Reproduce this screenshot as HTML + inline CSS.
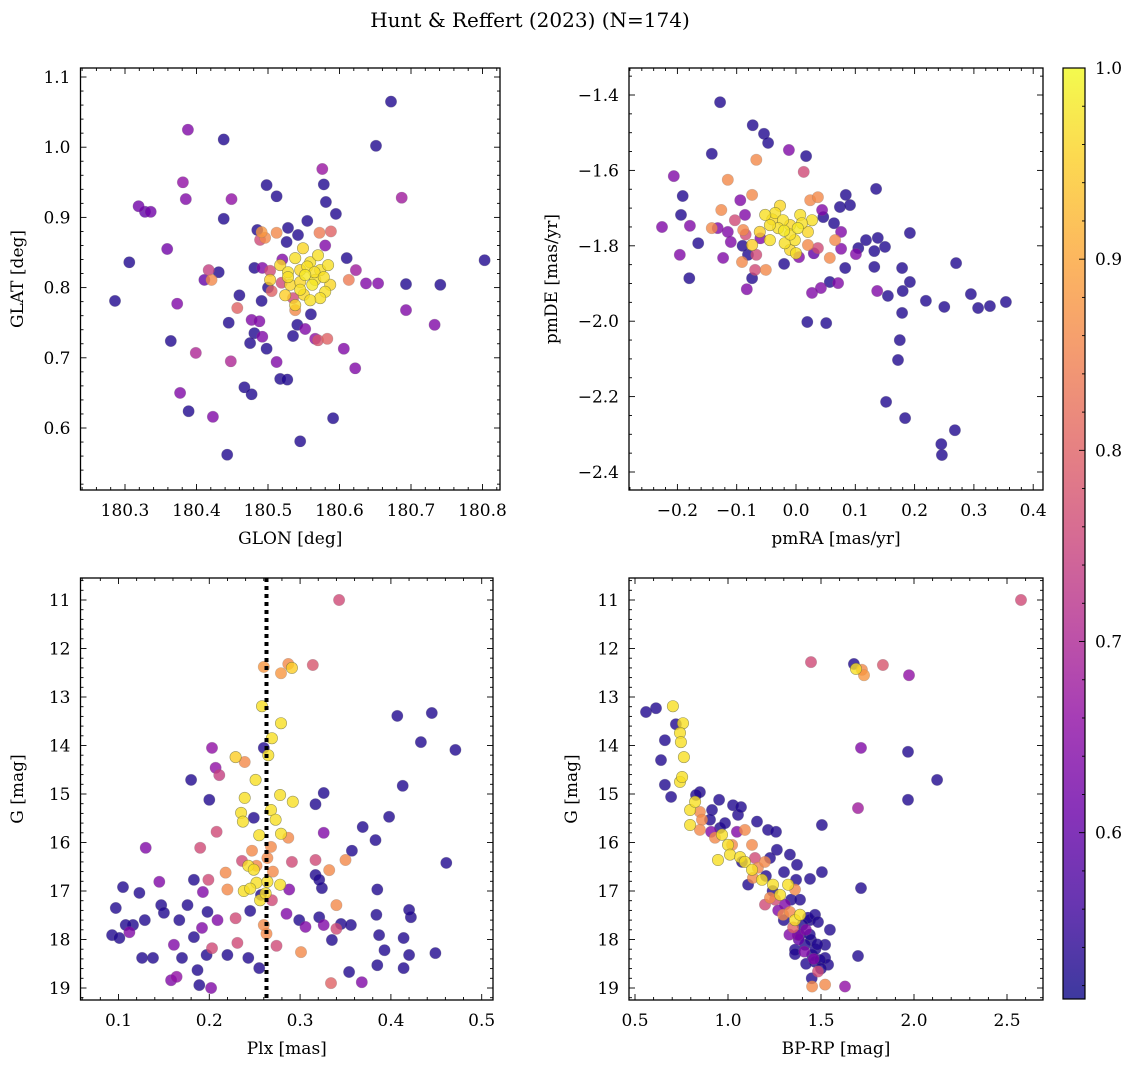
<!DOCTYPE html>
<html><head><meta charset="utf-8">
<style>
html,body{margin:0;padding:0;background:#fff;}
svg{display:block;font-family:"DejaVu Serif","Liberation Serif",serif;}
</style></head>
<body>
<svg id="fig" width="1136" height="1067" viewBox="0 0 1136 1067" xmlns="http://www.w3.org/2000/svg">
<text x="530" y="27" text-anchor="middle" font-size="20">Hunt &amp; Reffert (2023) (N=174)</text>
</svg>
<script>
// ---- data: [x, y, membership probability] ----
const skyStars = [
[180.672,1.065,.53],[180.388,1.025,.64],[180.438,1.011,.53],[180.651,1.002,.53],[180.381,0.950,.66],[180.576,0.969,.67],[180.498,0.946,.53],[180.578,0.947,.53],[180.319,0.916,.62],[180.336,0.908,.62],[180.328,0.908,.60],[180.385,0.926,.64],[180.449,0.926,.66],[180.512,0.930,.53],[180.687,0.928,.68],[180.581,0.922,.53],[180.438,0.898,.53],[180.595,0.905,.53],[180.306,0.836,.53],[180.359,0.855,.62],[180.588,0.880,.80],[180.803,0.839,.53],[180.741,0.804,.53],[180.693,0.805,.53],[180.654,0.806,.64],[180.637,0.806,.64],[180.623,0.825,.68],[180.613,0.811,.84],[180.417,0.825,.74],[180.431,0.822,.53],[180.411,0.811,.60],[180.421,0.811,.86],[180.286,0.781,.53],[180.373,0.777,.64],[180.457,0.771,.80],[180.460,0.789,.53],[180.445,0.750,.53],[180.693,0.768,.64],[180.733,0.747,.64],[180.364,0.724,.53],[180.399,0.707,.70],[180.448,0.695,.70],[180.606,0.713,.64],[180.622,0.685,.64],[180.512,0.694,.64],[180.517,0.670,.53],[180.527,0.669,.53],[180.467,0.658,.53],[180.477,0.648,.53],[180.377,0.650,.64],[180.389,0.624,.53],[180.591,0.614,.53],[180.423,0.616,.64],[180.545,0.581,.53],[180.443,0.562,.53],
[180.485,0.882,.53],[180.528,0.885,.53],[180.555,0.895,.53],[180.489,0.868,.76],[180.542,0.875,.53],[180.512,0.878,.86],[180.526,0.865,.53],[180.491,0.879,.88],[180.496,0.871,.86],[180.481,0.828,.53],[180.492,0.828,.64],[180.503,0.824,.76],[180.491,0.781,.53],[180.477,0.754,.64],[180.488,0.752,.64],[180.481,0.735,.53],[180.475,0.721,.53],[180.498,0.713,.53],[180.492,0.730,.64],[180.541,0.747,.53],[180.535,0.731,.53],[180.552,0.741,.64],[180.566,0.727,.66],[180.570,0.725,.78],[180.583,0.727,.80],[180.572,0.878,.84],[180.519,0.807,.76],[180.535,0.785,.76],[180.538,0.768,.86],
[180.560,0.762,.53],[180.500,0.800,.53],[180.610,0.842,.53],[180.520,0.840,.64],[180.580,0.860,.64],[180.505,0.795,.80],
[180.538,0.842,.97],[180.559,0.836,.97],[180.573,0.825,.97],[180.545,0.825,.96],[180.528,0.822,.97],[180.552,0.818,.98],[180.566,0.811,.97],[180.531,0.804,.96],[180.545,0.797,.97],[180.580,0.794,.97],[180.587,0.804,.96],[180.573,0.785,.97],[180.524,0.789,.95],[180.559,0.782,.97],[180.538,0.775,.96],[180.584,0.832,.97],[180.570,0.846,.97],[180.549,0.856,.96],[180.562,0.804,.98],[180.517,0.832,.96],[180.503,0.811,.95],
[180.555,0.830,.97],[180.545,0.808,.96],[180.565,0.822,.97],[180.528,0.815,.97],[180.550,0.790,.96],[180.578,0.815,.97]
];
const pmStars = [
[-0.128,-1.419,.53],[-0.073,-1.480,.53],[-0.054,-1.503,.53],[-0.047,-1.527,.53],[-0.142,-1.556,.53],[-0.012,-1.546,.64],[0.017,-1.562,.53],[-0.067,-1.572,.86],[0.013,-1.604,.76],[0.135,-1.649,.53],[-0.206,-1.615,.64],[-0.191,-1.668,.53],[-0.115,-1.625,.86],[0.084,-1.665,.53],[0.074,-1.697,.53],[0.091,-1.692,.53],[-0.226,-1.750,.64],[-0.194,-1.718,.53],[-0.179,-1.747,.64],[-0.165,-1.793,.53],[-0.180,-1.886,.53],[-0.196,-1.824,.64],[0.046,-1.724,.53],[0.064,-1.740,.53],[0.076,-1.763,.64],[0.118,-1.785,.53],[0.138,-1.779,.53],[0.132,-1.814,.53],[0.150,-1.803,.53],[0.192,-1.766,.53],[0.132,-1.856,.53],[0.179,-1.859,.53],[0.192,-1.896,.53],[0.101,-1.822,.64],[0.105,-1.806,.53],[0.076,-1.808,.64],[0.083,-1.859,.53],[0.071,-1.899,.64],[0.057,-1.896,.53],[0.027,-1.925,.64],[0.042,-1.912,.64],[0.137,-1.920,.64],[0.155,-1.933,.53],[0.180,-1.920,.53],[0.219,-1.946,.53],[0.250,-1.962,.53],[0.295,-1.928,.53],[0.307,-1.965,.53],[0.327,-1.960,.53],[0.354,-1.949,.53],[0.270,-1.846,.53],[0.019,-2.002,.53],[0.051,-2.005,.53],[0.179,-1.978,.53],[0.175,-2.050,.53],[0.172,-2.103,.53],[0.152,-2.214,.53],[0.184,-2.257,.53],[0.245,-2.326,.53],[0.246,-2.355,.53],[0.268,-2.289,.53],[-0.074,-1.886,.53],[-0.081,-1.824,.53],[-0.083,-1.915,.64],[-0.020,-1.848,.53],
[-0.090,-1.800,.53],[-0.060,-1.780,.64],[0.030,-1.820,.60],[-0.110,-1.790,.64],[-0.085,-1.770,.76],[0.005,-1.830,.64],
[0.024,-1.679,.86],[0.037,-1.671,.86],[0.044,-1.705,.64],[-0.089,-1.758,.86],[-0.103,-1.732,.76],[-0.115,-1.763,.64],[-0.132,-1.753,.64],[-0.091,-1.843,.86],[-0.067,-1.824,.76],[-0.051,-1.864,.86],[0.020,-1.798,.86],[0.037,-1.806,.76],[0.057,-1.832,.86],[0.066,-1.785,.86],[-0.074,-1.665,.86],[-0.086,-1.718,.64],[-0.094,-1.679,.64],[-0.126,-1.705,.86],[-0.142,-1.753,.86],[-0.069,-1.864,.76],[-0.123,-1.832,.64],
[-0.035,-1.713,.97],[-0.022,-1.732,.97],[-0.010,-1.745,.96],[-0.030,-1.753,.97],[-0.002,-1.785,.97],[-0.010,-1.811,.96],[-0.044,-1.785,.97],[0.007,-1.718,.97],[0.020,-1.763,.96],[-0.044,-1.745,.97],[-0.061,-1.763,.95],[-0.019,-1.793,.97],[0.003,-1.753,.98],[-0.027,-1.694,.96],[0.027,-1.732,.97],[-0.052,-1.718,.97],[-0.074,-1.798,.95],
[-0.010,-1.770,.97],[0.010,-1.740,.97],[-0.040,-1.730,.96],[0.000,-1.820,.97],[-0.020,-1.760,.98]
];
const plxStars = [
[.343,11.0,.76],[.260,12.38,.88],[.287,12.32,.86],[.291,12.40,.95],[.279,12.51,.88],[.314,12.34,.78],[.258,13.19,.97],[.269,13.85,.97],[.279,13.54,.97],[.260,14.05,.53],[.265,14.20,.97],[.407,13.39,.53],[.445,13.33,.53],[.433,13.93,.53],[.471,14.09,.53],[.229,14.24,.95],[.239,14.34,.86],[.203,14.05,.66],[.207,14.46,.66],[.211,14.61,.74],[.251,14.71,.97],[.180,14.71,.53],[.200,15.12,.53],[.239,15.08,.97],[.278,15.02,.97],[.292,15.16,.97],[.317,15.21,.53],[.326,14.98,.53],[.235,15.39,.97],[.237,15.57,.97],[.249,15.49,.53],[.268,15.33,.97],[.273,15.53,.97],[.413,14.83,.53],[.398,15.47,.53],[.369,15.68,.53],[.357,16.17,.53],[.383,15.95,.53],[.326,15.80,.64],[.287,15.90,.86],[.279,15.82,.97],[.268,16.09,.86],[.247,16.17,.86],[.264,16.32,.86],[.236,16.38,.76],[.208,15.78,.76],[.190,16.11,.76],[.218,16.62,.86],[.199,16.77,.76],[.220,16.97,.86],[.243,16.48,.97],[.249,16.56,.97],[.252,16.83,.97],[.278,16.87,.97],[.264,16.81,.97],[.256,17.19,.97],[.238,17.00,.97],[.245,17.41,.53],[.257,17.08,.53],[.252,16.48,.86],[.291,16.40,.76],[.317,16.36,.76],[.350,16.36,.86],[.317,16.67,.53],[.332,16.57,.86],[.324,16.94,.53],[.321,16.77,.53],[.288,16.97,.64],[.269,17.19,.76],[.285,17.47,.64],[.299,17.60,.53],[.306,17.74,.64],[.321,17.54,.53],[.326,17.70,.64],[.340,17.29,.86],[.340,17.78,.76],[.335,18.01,.53],[.345,17.68,.53],[.356,17.70,.53],[.385,16.97,.53],[.384,17.49,.53],[.387,17.91,.53],[.393,18.22,.53],[.385,18.53,.53],[.420,18.32,.53],[.414,17.97,.53],[.422,17.54,.53],[.420,17.39,.53],[.449,18.28,.53],[.461,16.42,.53],[.414,18.59,.53],[.354,18.67,.53],[.334,18.90,.80],[.368,18.88,.64],[.301,18.26,.86],[.274,18.13,.76],[.263,17.88,.86],[.260,17.70,.86],[.255,18.59,.53],[.243,18.38,.53],[.220,18.32,.53],[.231,18.07,.76],[.229,17.56,.76],[.209,17.60,.64],[.203,18.18,.76],[.192,17.76,.64],[.198,17.43,.53],[.193,17.02,.64],[.183,16.77,.53],[.176,17.29,.53],[.167,17.60,.53],[.183,17.95,.53],[.197,18.32,.53],[.189,18.94,.53],[.202,19.0,.64],[.187,18.63,.53],[.161,18.11,.64],[.170,18.38,.53],[.158,18.84,.64],[.164,18.77,.66],[.138,18.38,.53],[.126,18.38,.53],[.112,17.85,.64],[.116,17.70,.53],[.129,17.60,.53],[.145,16.81,.64],[.147,17.29,.53],[.150,17.45,.53],[.130,16.11,.64],[.123,17.04,.53],[.105,16.92,.53],[.093,17.91,.53],[.101,17.97,.53],[.097,17.35,.53],[.108,17.70,.53],
[.262,17.05,.97],[.245,16.95,.97],[.270,16.60,.86],[.255,15.85,.97]
];
const cmdStars = [
[2.575,11.0,.76],[1.446,12.28,.76],[1.677,12.32,.53],[1.688,12.42,.97],[1.720,12.44,.86],[1.731,12.55,.88],[1.833,12.34,.78],[1.973,12.55,.66],[0.704,13.19,.97],[0.758,13.54,.97],[0.742,13.74,.97],[0.763,14.24,.97],[0.747,13.93,.97],[0.742,14.75,.97],[0.753,14.65,.97],[0.559,13.31,.53],[0.613,13.23,.53],[0.720,13.56,.53],[0.661,13.89,.53],[0.640,14.30,.53],[0.661,14.81,.53],[0.694,15.06,.53],[0.849,14.96,.53],[0.828,15.02,.53],[1.715,14.05,.64],[1.699,15.29,.68],[1.968,14.13,.53],[2.124,14.71,.53],[1.968,15.12,.53],[1.715,16.94,.53],[1.699,18.34,.53],[1.505,15.64,.53],[1.387,17.91,.53],[1.505,16.61,.53],[1.441,17.60,.53],
[0.796,15.33,.97],[0.849,15.37,.86],[0.860,15.53,.86],[0.914,15.33,.53],[0.909,15.78,.64],[0.849,15.74,.86],[0.930,15.90,.86],[0.957,15.70,.53],[0.968,15.84,.97],[1.000,16.05,.97],[1.011,16.25,.97],[0.946,16.36,.97],[1.065,16.30,.97],[1.091,16.40,.97],[1.129,16.56,.97],[1.161,16.52,.86],[1.183,16.77,.97],[1.242,16.87,.97],[1.323,16.87,.97],[1.360,16.97,.86],[1.280,17.08,.97],[1.226,17.14,.86],[1.199,17.28,.76],[1.108,16.87,.53],[1.075,16.40,.53],[1.134,16.73,.86],[1.253,17.18,.76],[1.296,17.49,.86],[1.333,17.43,.86],[1.360,17.60,.97],[1.387,17.49,.97],[1.430,17.55,.53],[1.468,17.49,.53],[1.484,17.64,.53],[1.376,17.91,.64],[1.419,17.80,.64],[1.446,18.01,.53],[1.414,18.11,.53],[1.360,18.21,.53],[1.452,18.32,.53],[1.522,18.38,.53],[1.468,18.46,.53],[1.538,18.52,.53],[1.484,18.66,.76],[1.522,18.93,.86],[1.452,18.97,.86],[1.495,18.42,.53],[1.548,17.80,.53],[1.522,18.11,.53],[1.629,18.97,.66],[1.306,17.28,.64],[0.796,15.64,.97],[0.823,15.16,.97],[0.903,15.53,.53],[1.027,15.23,.53],[1.054,15.43,.53],[1.156,15.57,.53],[1.215,15.74,.53],[1.258,15.78,.53],[1.263,16.15,.53],[1.226,16.32,.53],[1.204,16.69,.53],[1.333,16.25,.53],[1.366,16.77,.53],[1.301,16.61,.53],[1.371,16.46,.53],[0.952,15.12,.53],[1.070,15.27,.53],[1.441,16.75,.53],[1.339,17.18,.53],[1.387,17.18,.53],[0.984,15.60,.53],[1.048,15.78,.64],[1.022,16.05,.86],[1.091,15.74,.86],[1.129,16.05,.86],[1.145,16.32,.76],[1.199,16.40,.86],
[1.400,17.70,.53],[1.440,17.90,.53],[1.380,18.00,.60],[1.470,18.20,.53],[1.420,18.50,.53],[1.500,18.60,.53],[1.360,18.30,.53],[1.450,18.80,.53],[1.330,17.90,.64],[1.300,17.60,.53],[1.270,17.40,.64],[1.240,17.00,.53],[1.410,18.25,.64],[1.480,18.10,.53],[1.350,17.75,.80],[1.460,18.40,.64]
];
const plxMedian = [0.263];
const cbarTicks = [0.6, 0.7, 0.8, 0.9, 1.0];
const skyXTicks = [180.3,180.4,180.5,180.6,180.7,180.8];
const skyYTicks = [0.6,0.7,0.8,0.9,1.0,1.1];
const pmXTicks = [-0.2,-0.1,0.0,0.1,0.2,0.3,0.4];
const pmYTicks = [-2.4,-2.2,-2.0,-1.8,-1.6,-1.4];
const plxXTicks = [0.1,0.2,0.3,0.4,0.5];
const magTicks = [11,12,13,14,15,16,17,18,19];
const colXTicks = [0.5,1.0,1.5,2.0,2.5];

const NS='http://www.w3.org/2000/svg';
const svg=document.getElementById('fig');
const VMIN=0.513, VMAX=1.0;
const plasma=[[13,8,135],[65,4,157],[106,0,168],[143,13,164],[177,42,144],[204,71,120],[225,100,98],[242,132,75],[252,166,54],[252,206,37],[240,249,33]];
function cmap(v){let t=(v-VMIN)/(VMAX-VMIN);t=Math.max(0,Math.min(1,t));const f=t*10,i=Math.min(9,Math.floor(f)),r=f-i;const a=plasma[i],b=plasma[i+1];return 'rgb('+[0,1,2].map(k=>Math.round(a[k]+(b[k]-a[k])*r)).join(',')+')';}
function el(tag,attrs,parent){const e=document.createElementNS(NS,tag);for(const k in attrs)e.setAttribute(k,attrs[k]);(parent||svg).appendChild(e);return e;}
function fmt(v,d){let s=v.toFixed(d);if(v<0)s='\u2212'+s.slice(1);return s;}

function panel(cfg){
  const g=el('g',{});
  
  
  const {L,R,T,B}=cfg;
  const sx=v=>L+(v-cfg.x0)/(cfg.x1-cfg.x0)*(R-L);
  const sy=v=>cfg.yinv? T+(v-cfg.y0)/(cfg.y1-cfg.y0)*(B-T) : B-(v-cfg.y0)/(cfg.y1-cfg.y0)*(B-T);
  const pts=cfg.data.slice().sort((a,b)=>a[2]-b[2]);
  pts.forEach(p=>{
    const c=el('circle',{cx:sx(p[0]).toFixed(1),cy:sy(p[1]).toFixed(1),r:5.7,fill:cmap(p[2]),'fill-opacity':0.8,stroke:p[2]>0.9?'#6b6b40':'#777','stroke-opacity':p[2]>0.9?0.7:0.35,'stroke-width':0.6},g);
    
    
  });
  if(cfg.vline){cfg.vline.forEach(v=>{const l=el('line',{x1:sx(v),x2:sx(v),y1:T,y2:B,stroke:'#000','stroke-width':4,'stroke-dasharray':'4 4'},g);
    
    });}
  const tk=(x1,y1,x2,y2)=>el('line',{x1,y1,x2,y2,stroke:'#000','stroke-width':0.9},g);
  const minorX=cfg.xstep/cfg.xdiv, minorY=cfg.ystep/cfg.ydiv;
  for(let v=Math.ceil(cfg.x0/minorX-1e-6)*minorX;v<=cfg.x1+1e-9;v+=minorX){const x=sx(v);const major=Math.abs(v/cfg.xstep-Math.round(v/cfg.xstep))<1e-4;const len=major?6:3;tk(x,B,x,B-len);tk(x,T,x,T+len);}
  const ylo=Math.min(cfg.y0,cfg.y1),yhi=Math.max(cfg.y0,cfg.y1);
  for(let v=Math.ceil(ylo/minorY-1e-6)*minorY;v<=yhi+1e-9;v+=minorY){const y=sy(v);const major=Math.abs(v/cfg.ystep-Math.round(v/cfg.ystep))<1e-4;const len=major?6:3;tk(L,y,L+len,y);tk(R,y,R-len,y);}
  cfg.xticks.forEach(v=>{const t=el('text',{x:sx(v),y:B+26,'text-anchor':'middle','font-size':17},g);t.textContent=fmt(v,cfg.xd);
    
    });
  cfg.yticks.forEach(v=>{const t=el('text',{x:L-10,y:sy(v)+6,'text-anchor':'end','font-size':17},g);t.textContent=fmt(v,cfg.yd);
    
    });
  el('rect',{x:L,y:T,width:R-L,height:B-T,fill:'none',stroke:'#000','stroke-width':1.3},g);
  const xl=el('text',{x:(L+R)/2,y:B+54,'text-anchor':'middle','font-size':17},g);xl.textContent=cfg.xlabel;
  
  
  const yx=cfg.ylabx,yy=(T+B)/2;
  const yl=el('text',{x:yx,y:yy,'text-anchor':'middle','font-size':17,transform:'rotate(-90 '+yx+' '+yy+')'},g);yl.textContent=cfg.ylabel;
  
  
}

panel({name:'sky-position-panel',L:80.5,R:500,T:68,B:490,x0:180.3-44.5/715,x1:180.3+375/715,y0:0.6-62/702,y1:0.6+360/702,xstep:0.1,xdiv:5,ystep:0.1,ydiv:5,xticks:skyXTicks,yticks:skyYTicks,xd:1,yd:1,data:skyStars,xlabel:'GLON [deg]',ylabel:'GLAT [deg]',ylabx:23});
panel({name:'proper-motion-panel',L:629,R:1043,T:68,B:490,x0:(629-796)/593,x1:(1043-796)/593,y0:-1.4-395/377,y1:-1.4+27/377,xstep:0.1,xdiv:5,ystep:0.2,ydiv:4,xticks:pmXTicks,yticks:pmYTicks,xd:1,yd:1,data:pmStars,xlabel:'pmRA [mas/yr]',ylabel:'pmDE [mas/yr]',ylabx:557});
panel({name:'parallax-magnitude-panel',L:80.5,R:493,T:578,B:1000,x0:0.1-38/908.5,x1:0.1+374.7/908.5,y0:11-22/48.5,y1:11+400/48.5,yinv:true,xstep:0.1,xdiv:5,ystep:1,ydiv:5,xticks:plxXTicks,yticks:magTicks,xd:1,yd:0,data:plxStars,vline:plxMedian,xlabel:'Plx [mas]',ylabel:'G [mag]',ylabx:23});
panel({name:'color-magnitude-panel',L:629,R:1043,T:578,B:1000,x0:0.5-6/186,x1:0.5+408/186,y0:11-22/48.5,y1:11+400/48.5,yinv:true,xstep:0.5,xdiv:5,ystep:1,ydiv:5,xticks:colXTicks,yticks:magTicks,xd:1,yd:0,data:cmdStars,xlabel:'BP-RP [mag]',ylabel:'G [mag]',ylabx:577});

(function(){
  const g=el('g',{});
  
  
  const X=1063,W=22,T=68,B=999;
  const sy=v=>B-(v-VMIN)/(VMAX-VMIN)*(B-T);
  const defs=el('defs',{},g);
  const lg=el('linearGradient',{id:'cb',x1:0,y1:1,x2:0,y2:0},defs);
  for(let i=0;i<=10;i++){el('stop',{offset:i/10,'stop-color':'rgb('+plasma[i].join(',')+')'},lg);}
  const r=el('rect',{x:X,y:T,width:W,height:B-T,fill:'url(#cb)','fill-opacity':0.8,stroke:'#000','stroke-width':1.2},g);
  
  
  for(let v=0.52;v<=1.0001;v+=0.02){const y=sy(v);const major=Math.abs(v*10-Math.round(v*10))<1e-4;el('line',{x1:X+W,x2:X+W-(major?6:3),y1:y,y2:y,stroke:'#000','stroke-width':0.9},g);}
  cbarTicks.forEach(v=>{const t=el('text',{x:X+W+10,y:sy(v)+6,'font-size':17},g);t.textContent=v.toFixed(1);
    
    });
})();
</script>
</body></html>
